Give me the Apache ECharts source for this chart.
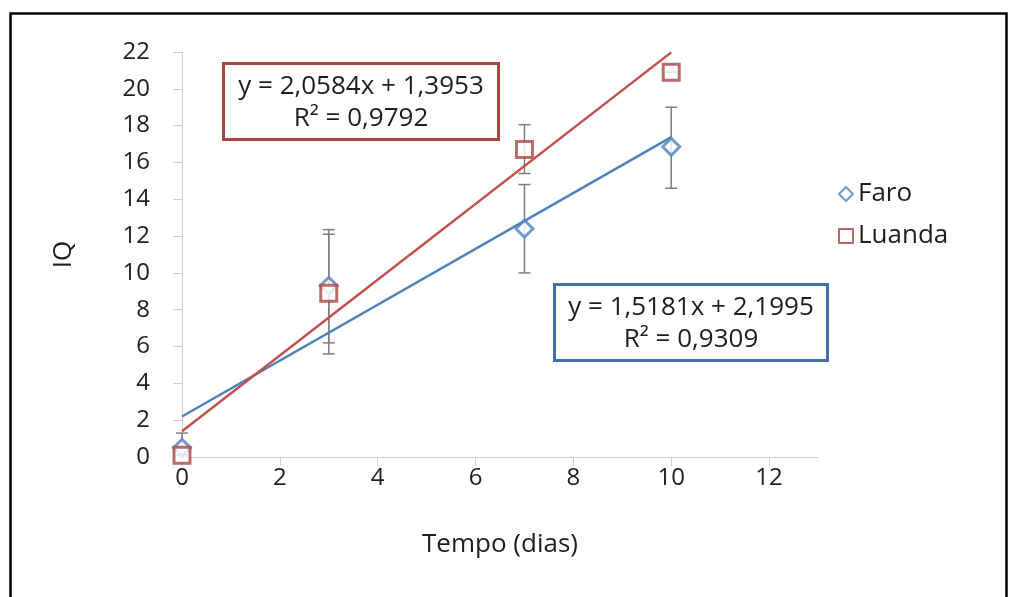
<!DOCTYPE html>
<html>
<head>
<meta charset="utf-8">
<script src="https://cdn.jsdelivr.net/npm/echarts@6/dist/echarts.min.js"></script>
<style>
  html, body { margin: 0; padding: 0; background: #fff; }
  #chart { width: 1013px; height: 597px; }
</style>
</head>
<body>
<div id="chart"></div>
<script>
// days and measured IQ values
const days = [0, 3, 7, 10];
const faroValues = [0.5, 9.3, 12.4, 16.85];
const luandaValues = [0.1, 8.9, 16.7, 20.9];

// error bar ranges [low, high]
const faroErrors = [[0.5, 1.3], [6.2, 12.35], [10.0, 14.8], [14.6, 19.0]];
const luandaErrors = [[0.1, 0.1], [5.6, 12.1], [15.4, 18.05], [20.9, 20.9]];

// linear trend endpoints (from the fitted equations)
const faroTrend = [[0, 2.1995], [10, 17.3805]];
const luandaTrend = [[0, 1.3953], [10, 21.9793]];

const faroLabel = ["y = 1,5181x + 2,1995", "R² = 0,9309"];
const luandaLabel = ["y = 2,0584x + 1,3953", "R² = 0,9792"];

const blue = "#4F81BD";
const red = "#C0504D";
const textColor = "#1e1e1e";
const font = "'Open Sans', sans-serif";

function pairs(xs, ys) {
  return xs.map((x, i) => [x, ys[i]]);
}
function errorData(xs, errs) {
  return xs.map((x, i) => [x, errs[i][0], errs[i][1]]);
}

function errorBarItem(params, api) {
  const x = api.value(0);
  const lo = api.coord([x, api.value(1)]);
  const hi = api.coord([x, api.value(2)]);
  const half = 6;
  const style = { stroke: "#7f7f7f", lineWidth: 1.5 };
  return {
    type: "group",
    children: [
      { type: "line", shape: { x1: lo[0], y1: lo[1], x2: hi[0], y2: hi[1] }, style },
      { type: "line", shape: { x1: lo[0] - half, y1: lo[1], x2: lo[0] + half, y2: lo[1] }, style },
      { type: "line", shape: { x1: hi[0] - half, y1: hi[1], x2: hi[0] + half, y2: hi[1] }, style },
    ],
  };
}

function eqBox(left, top, w, h, color, lines) {
  return {
    type: "group",
    left: left,
    top: top,
    children: [
      {
        type: "rect",
        shape: { x: 0, y: 0, width: w, height: h },
        style: { fill: "#fff", stroke: color, lineWidth: 3 },
      },
      {
        type: "text",
        x: w / 2,
        y: h / 2 + 1,
        style: {
          text: lines.join("\n"),
          font: "26px " + font,
          fill: textColor,
          align: "center",
          verticalAlign: "middle",
          lineHeight: 32,
        },
      },
    ],
  };
}

const chart = echarts.init(document.getElementById("chart"));

const option = {
  animation: false,
  textStyle: { fontFamily: font },
  grid: { left: 182, right: 195, top: 52, bottom: 140, containLabel: false },
  xAxis: {
    type: "value",
    min: 0,
    max: 13,
    interval: 2,
    name: "Tempo (dias)",
    nameLocation: "middle",
    nameGap: 75,
    nameTextStyle: { fontSize: 26, color: textColor, fontFamily: font },
    axisLine: { show: true, lineStyle: { color: "#d0d0d0", width: 1 } },
    axisTick: { show: true, inside: false, length: 9, lineStyle: { color: "#d0d0d0" } },
    axisLabel: { fontSize: 24, color: textColor, margin: 9, showMaxLabel: false },
    splitLine: { show: false },
  },
  yAxis: {
    type: "value",
    min: 0,
    max: 22,
    interval: 2,
    name: "IQ",
    nameLocation: "middle",
    nameGap: 105,
    nameTextStyle: { fontSize: 26, color: textColor, fontFamily: font },
    axisLine: { show: true, lineStyle: { color: "#d0d0d0", width: 1 } },
    axisTick: { show: true, inside: false, length: 9, lineStyle: { color: "#d0d0d0" } },
    axisLabel: { fontSize: 24, color: textColor, margin: 32 },
    splitLine: { show: false },
  },
  legend: {
    orient: "vertical",
    left: 833,
    top: 176,
    itemGap: 16,
    itemWidth: 14,
    itemHeight: 14,
    data: ["Faro", "Luanda"],
    textStyle: { fontSize: 26, color: textColor, fontFamily: font },
  },
  series: [
    {
      name: "Faro err",
      type: "custom",
      renderItem: errorBarItem,
      data: errorData(days, faroErrors),
      encode: { x: 0, y: [1, 2] },
      z: 1,
      silent: true,
    },
    {
      name: "Luanda err",
      type: "custom",
      renderItem: errorBarItem,
      data: errorData(days, luandaErrors),
      encode: { x: 0, y: [1, 2] },
      z: 1,
      silent: true,
    },
    {
      name: "Faro",
      type: "scatter",
      symbol: "diamond",
      symbolSize: 17,
      data: pairs(days, faroValues),
      itemStyle: { color: "#fff", borderColor: blue, borderWidth: 3 },
      z: 3,
    },
    {
      name: "Luanda",
      type: "scatter",
      symbol: "rect",
      symbolSize: 16,
      data: pairs(days, luandaValues),
      itemStyle: { color: "#fff", borderColor: "#A84644", borderWidth: 3 },
      z: 4,
    },
    {
      name: "Faro trend",
      type: "line",
      data: faroTrend,
      showSymbol: false,
      symbol: "none",
      lineStyle: { color: blue, width: 2.5 },
      z: 5,
      silent: true,
    },
    {
      name: "Luanda trend",
      type: "line",
      data: luandaTrend,
      showSymbol: false,
      symbol: "none",
      lineStyle: { color: red, width: 2.5 },
      z: 5,
      silent: true,
    },
  ],
  graphic: [
    {
      type: "rect",
      left: 8,
      top: 11,
      shape: { x: 0, y: 0, width: 996, height: 620 },
      style: { fill: "none", stroke: "#000", lineWidth: 2.5 },
      silent: true,
    },
    eqBox(222, 62, 275, 76, "#A84644", luandaLabel),
    eqBox(553, 283, 273, 76, "#3F6FA8", faroLabel),
  ],
};

chart.setOption(option);
</script>
</body>
</html>
